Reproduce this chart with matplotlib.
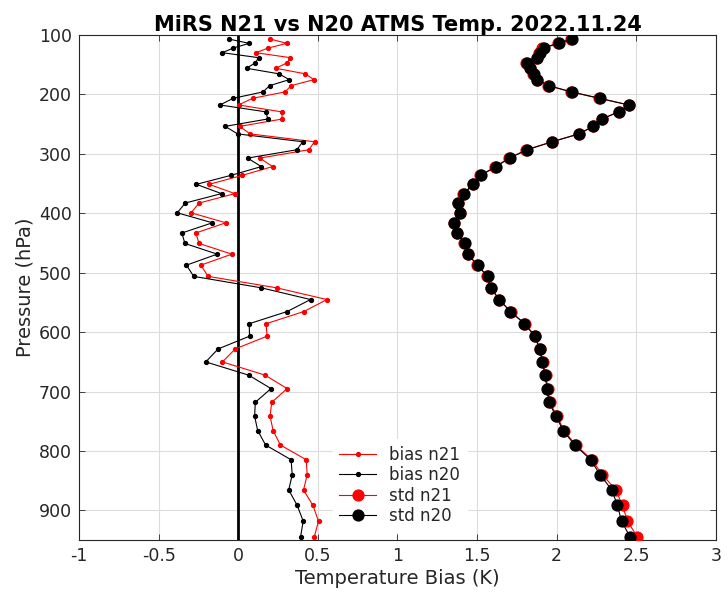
import matplotlib
matplotlib.use('Agg')
import matplotlib.pyplot as plt

# pressure levels (hPa)
pressure = [106.6, 114.0, 121.7, 129.7, 138.1, 146.8, 155.9, 165.3, 175.1, 185.2,
            195.7, 206.5, 217.7, 229.3, 241.3, 253.7, 266.4, 279.6, 293.1, 307.1,
            321.4, 336.2, 351.3, 366.9, 382.8, 399.2, 416.0, 433.2, 450.8, 468.8,
            487.3, 506.2, 525.5, 545.2, 565.4, 585.9, 606.9, 628.3, 650.2, 672.4,
            695.1, 718.2, 741.8, 765.7, 790.1, 814.9, 840.1, 865.7, 891.7, 918.2,
            945.1]

bias_n21 = [0.20, 0.305, 0.19, 0.11, 0.328, 0.307, 0.235, 0.422, 0.475, 0.332,
            0.294, 0.09, 0.002, 0.273, 0.277, 0.01, 0.074, 0.479, 0.443, 0.135,
            0.216, 0.025, -0.183, -0.021, -0.246, -0.296, -0.078, -0.267, -0.246, -0.04,
            -0.235, -0.189, 0.241, 0.557, 0.412, 0.175, 0.181, -0.019, -0.099, 0.168,
            0.307, 0.21, 0.20, 0.219, 0.265, 0.427, 0.433, 0.41, 0.469, 0.504,
            0.477]

bias_n20 = [-0.061, 0.069, -0.03, -0.10, 0.128, 0.107, 0.052, 0.256, 0.32, 0.197,
            0.156, -0.032, -0.115, 0.174, 0.185, -0.082, -0.004, 0.405, 0.368, 0.059,
            0.145, -0.046, -0.263, -0.105, -0.333, -0.383, -0.162, -0.354, -0.335, -0.132,
            -0.325, -0.28, 0.145, 0.454, 0.307, 0.069, 0.071, -0.126, -0.204, 0.065,
            0.206, 0.107, 0.103, 0.122, 0.172, 0.332, 0.339, 0.317, 0.37, 0.408,
            0.391]

std_n21 = [2.09, 2.005, 1.91, 1.89, 1.873, 1.808, 1.83, 1.85, 1.875, 1.945,
           2.09, 2.265, 2.455, 2.39, 2.285, 2.23, 2.14, 1.97, 1.81, 1.70,
           1.615, 1.52, 1.475, 1.412, 1.38, 1.39, 1.352, 1.372, 1.418, 1.44,
           1.50, 1.565, 1.585, 1.638, 1.71, 1.80, 1.865, 1.895, 1.913, 1.93,
           1.945, 1.955, 2.003, 2.045, 2.12, 2.22, 2.287, 2.371, 2.413, 2.444,
           2.507]

std_n20 = [2.098, 2.013, 1.919, 1.898, 1.879, 1.814, 1.835, 1.856, 1.879, 1.950,
           2.093, 2.270, 2.451, 2.388, 2.282, 2.228, 2.139, 1.972, 1.814, 1.704,
           1.619, 1.524, 1.477, 1.416, 1.383, 1.393, 1.356, 1.376, 1.421, 1.442,
           1.503, 1.566, 1.587, 1.639, 1.709, 1.797, 1.862, 1.892, 1.910, 1.925,
           1.940, 1.950, 1.997, 2.039, 2.114, 2.213, 2.272, 2.346, 2.381, 2.407,
           2.461]

x_ticks = [-1, -0.5, 0, 0.5, 1, 1.5, 2, 2.5, 3]
x_tick_labels = ['-1', '-0.5', '0', '0.5', '1', '1.5', '2', '2.5', '3']
y_ticks = [100, 200, 300, 400, 500, 600, 700, 800, 900]

plt.rcParams['font.family'] = ['DejaVu Sans']
axis_color = '#262626'

fig = plt.figure(figsize=(7.28, 5.92), dpi=100)
ax = fig.add_axes([0.1085, 0.0878, 0.875, 0.853])

ax.plot(bias_n21, pressure, '-o', color='red', lw=0.8, ms=2.8, label='bias n21', zorder=3)
ax.plot(bias_n20, pressure, '-o', color='black', lw=0.8, ms=2.8, label='bias n20', zorder=3)
ax.plot(std_n21, pressure, '-o', color='red', lw=0.8, ms=7.8, label='std n21', zorder=3)
ax.plot(std_n20, pressure, '-o', color='black', lw=0.8, ms=7.8, label='std n20', zorder=3)

# нулевая линия
ax.axvline(0, color='black', lw=2, zorder=2)

ax.set_xlim(-1, 3)
ax.set_ylim(950, 100)
ax.set_xticks(x_ticks)
ax.set_xticklabels(x_tick_labels)
ax.set_yticks(y_ticks)

ax.grid(True, color='#dcdcdc', lw=0.8, zorder=0)
ax.set_axisbelow(True)
for sp in ax.spines.values():
    sp.set_color(axis_color)
    sp.set_linewidth(0.8)
ax.tick_params(direction='in', top=True, right=True, length=4, width=0.6,
               color=axis_color, labelcolor=axis_color, labelsize=12.5, pad=5)

ax.set_xlabel('Temperature Bias (K)', fontsize=14, color=axis_color, labelpad=3)
ax.set_ylabel('Pressure (hPa)', fontsize=14, color=axis_color, labelpad=3)
ax.set_title('MiRS N21 vs N20 ATMS Temp. 2022.11.24', fontsize=15,
             fontweight='bold', pad=3)

leg = ax.legend(loc='lower left', bbox_to_anchor=(0.385, 0.0), fontsize=12,
                frameon=True, facecolor='white', edgecolor='white', framealpha=1,
                handlelength=2.2, handletextpad=0.8, labelspacing=0.15,
                borderpad=0.4)
for t in leg.get_texts():
    t.set_color(axis_color)

fig.savefig('out.png', dpi=100)
